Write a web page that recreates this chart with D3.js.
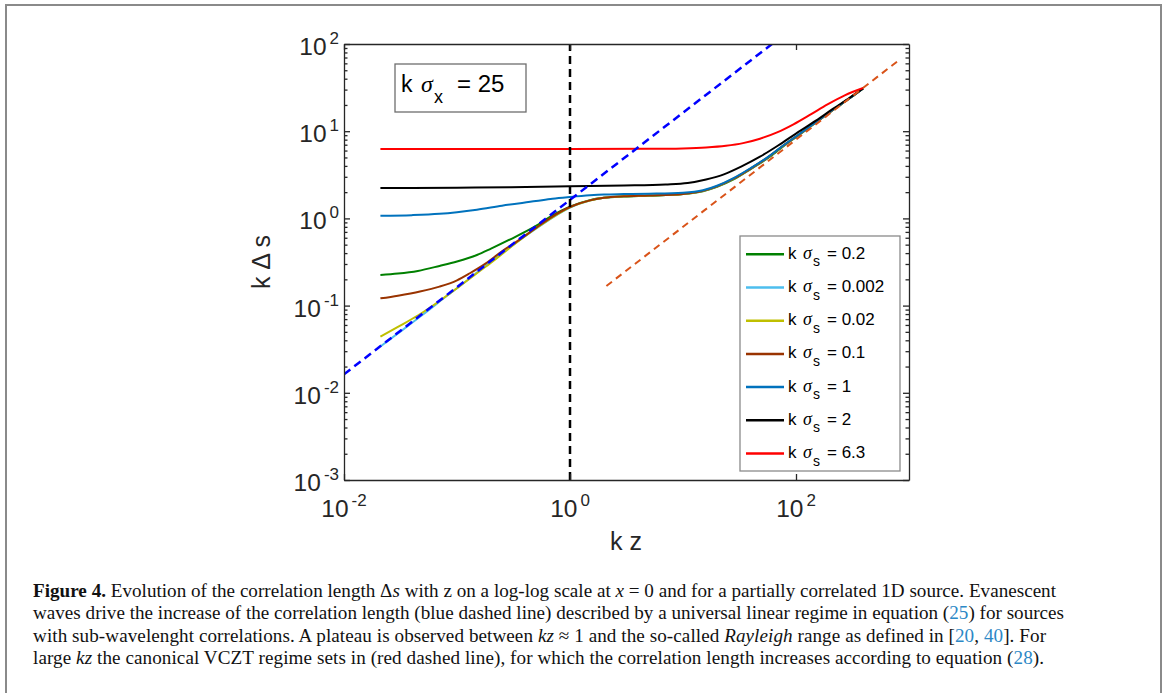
<!DOCTYPE html>
<html>
<head>
<meta charset="utf-8">
<script src="https://cdn.jsdelivr.net/npm/d3@7"></script>
<style>
  body { margin: 0; background: #fff; }
</style>
</head>
<body>
<div id="chart"></div>
<script>
// curves: [k z, k Δs]
const sigma02 = [[0.021,0.224],[0.03,0.233],[0.045,0.25],[0.07,0.285],[0.1,0.32],[0.15,0.38],[0.2,0.45],[0.3,0.58],[0.5,0.82],[0.7,1.08],[1,1.36],[1.5,1.62],[2,1.72],[3,1.78],[5,1.82],[10,1.9],[15,2.05],[20,2.3],[28,2.8],[40,3.7],[55,4.8],[77,6.7],[108,9.2],[150,12.6],[212,17.5],[300,24],[392,31]];
const sigma0002 = [[0.021,0.034],[0.03,0.048],[0.05,0.079],[0.08,0.127],[0.12,0.19],[0.18,0.29],[0.25,0.4],[0.35,0.55],[0.5,0.76],[0.7,1.02],[1,1.33],[1.5,1.6],[2,1.72],[3,1.79],[5,1.83],[10,1.91],[15,2.07],[20,2.33],[28,2.85],[40,3.75],[55,4.9],[77,6.8],[108,9.3],[150,12.65],[212,17.55],[300,24],[392,31]];
const sigma002 = [[0.021,0.044],[0.03,0.057],[0.045,0.077],[0.07,0.113],[0.1,0.158],[0.15,0.235],[0.2,0.31],[0.3,0.47],[0.5,0.77],[0.7,1.03],[1,1.34],[1.5,1.6],[2,1.72],[3,1.79],[5,1.83],[10,1.91],[15,2.07],[20,2.33],[28,2.85],[40,3.75],[55,4.9],[77,6.8],[108,9.3],[150,12.65],[212,17.55],[300,24],[392,31]];
const sigma01 = [[0.021,0.121],[0.03,0.13],[0.047,0.145],[0.07,0.165],[0.1,0.195],[0.13,0.235],[0.18,0.305],[0.25,0.42],[0.35,0.56],[0.5,0.78],[0.7,1.05],[1,1.35],[1.5,1.61],[2,1.72],[3,1.79],[5,1.83],[10,1.91],[15,2.07],[20,2.33],[28,2.85],[40,3.75],[55,4.9],[77,6.8],[108,9.3],[150,12.65],[212,17.55],[300,24],[392,31]];
const sigma1 = [[0.021,1.07],[0.04,1.09],[0.07,1.13],[0.1,1.18],[0.15,1.26],[0.25,1.4],[0.5,1.58],[0.7,1.68],[1,1.76],[1.5,1.84],[2,1.88],[3,1.9],[5,1.92],[10,1.97],[15,2.1],[20,2.37],[28,2.9],[40,3.8],[55,4.95],[77,6.85],[108,9.35],[150,12.7],[212,17.6],[300,24],[392,31]];
const sigma2 = [[0.021,2.23],[0.1,2.25],[0.3,2.28],[1,2.33],[3,2.38],[7,2.45],[11,2.55],[16,2.8],[23,3.2],[33,3.95],[48,5.1],[70,6.9],[100,9.4],[150,13.2],[212,18],[300,24.3],[392,31]];
const sigma63 = [[0.021,6.25],[1,6.25],[5,6.28],[10,6.35],[16,6.5],[24,6.8],[34,7.3],[48,8.2],[68,9.7],[95,12],[135,15.6],[190,20.3],[270,25.8],[392,31.3]];

// guide lines
const evanescentLine = [[0.01,0.0163],[61.3,100]];
const vcztLine = [[2.1,0.168],[800,64]];
const kzOneLine = [[1,0.001],[1,100]];

const seriesData = [sigma02, sigma0002, sigma002, sigma01, sigma1, sigma2, sigma63];
const seriesLabels = ["0.2", "0.002", "0.02", "0.1", "1", "2", "6.3"];
const seriesColors = ["#008000", "#4DBEEE", "#BFBF00", "#993300", "#0072BD", "#000000", "#FF0000"];

const xMajor = [1e-2, 1, 1e2];
const yMajor = [1e-3, 1e-2, 1e-1, 1, 10, 100];
const sigmaX = "25";

const captionLines = [
  [["Figure 4.", "b"], [" Evolution of the correlation length Δ", ""], ["s", "i"], [" with z on a log-log scale at ", ""], ["x", "i"], [" = 0 and for a partially correlated 1D source. Evanescent", ""]],
  [["waves drive the increase of the correlation length (blue dashed line) described by a universal linear regime in equation (", ""], ["25", "a"], [") for sources", ""]],
  [["with sub-wavelenght correlations. A plateau is observed between ", ""], ["kz", "i"], [" ≈ 1 and the so-called ", ""], ["Rayleigh", "i"], [" range as defined in [", ""], ["20", "a"], [", ", ""], ["40", "a"], ["]. For", ""]],
  [["large ", ""], ["kz", "i"], [" the canonical VCZT regime sets in (red dashed line), for which the correlation length increases according to equation (", ""], ["28", "a"], [").", ""]]
];
const captionEnds = [1056, 1064, 1046, 1044];

const W = 1168, H = 693;
const plot = { left: 344, right: 909, top: 44, bottom: 480 };
const axisColor = "#262626";
const sans = "'Liberation Sans', Arial, sans-serif";

const svg = d3.select("#chart").append("svg")
  .attr("width", W).attr("height", H)
  .attr("font-family", sans);

// page frame
svg.append("rect")
  .attr("x", 6).attr("y", 5).attr("width", 1155).attr("height", 800)
  .attr("fill", "none").attr("stroke", "#8a8a8a").attr("stroke-width", 2);

const x = d3.scaleLog().domain([1e-2, 1e3]).range([plot.left, plot.right]);
const y = d3.scaleLog().domain([1e-3, 1e2]).range([plot.bottom, plot.top]);

const yMinor = [];
for (let e = -3; e < 2; e++) for (let m = 2; m <= 9; m++) yMinor.push(m * Math.pow(10, e));

svg.append("defs").append("clipPath").attr("id", "clip")
  .append("rect").attr("x", plot.left).attr("y", plot.top)
  .attr("width", plot.right - plot.left).attr("height", plot.bottom - plot.top);

const line = d3.line().x(d => x(d[0])).y(d => y(d[1])).curve(d3.curveMonotoneX);
const straight = d3.line().x(d => x(d[0])).y(d => y(d[1]));

const curves = svg.append("g").attr("clip-path", "url(#clip)");
curves.selectAll("path.series")
  .data(seriesData)
  .join("path")
  .attr("class", "series")
  .attr("fill", "none")
  .attr("stroke", (d, i) => seriesColors[i])
  .attr("stroke-width", 2)
  .attr("d", line);

curves.append("path").attr("d", straight(vcztLine))
  .attr("fill", "none").attr("stroke", "#D95319").attr("stroke-width", 2)
  .attr("stroke-dasharray", "7,5");
curves.append("path").attr("d", straight(evanescentLine))
  .attr("fill", "none").attr("stroke", "#0000FF").attr("stroke-width", 2.5)
  .attr("stroke-dasharray", "8,5");
curves.append("path").attr("d", straight(kzOneLine))
  .attr("fill", "none").attr("stroke", "#000").attr("stroke-width", 2.5)
  .attr("stroke-dasharray", "8,5");

// axes, ticks pointing inward on all four sides
const axG = svg.append("g").attr("color", axisColor);
axG.append("g").attr("transform", `translate(0,${plot.bottom})`)
  .call(d3.axisBottom(x).tickValues(xMajor).tickSize(-6).tickSizeOuter(0).tickFormat(""));
axG.append("g").attr("transform", `translate(0,${plot.top})`)
  .call(d3.axisTop(x).tickValues(xMajor).tickSize(-6).tickSizeOuter(0).tickFormat(""));
axG.append("g").attr("transform", `translate(${plot.left},0)`)
  .call(d3.axisLeft(y).tickValues(yMajor).tickSize(-6).tickSizeOuter(0).tickFormat(""));
axG.append("g").attr("transform", `translate(${plot.right},0)`)
  .call(d3.axisRight(y).tickValues(yMajor).tickSize(-6).tickSizeOuter(0).tickFormat(""));
axG.append("g").attr("transform", `translate(${plot.left},0)`)
  .call(d3.axisLeft(y).tickValues(yMinor).tickSize(-3.5).tickSizeOuter(0).tickFormat(""))
  .select(".domain").remove();
axG.append("g").attr("transform", `translate(${plot.right},0)`)
  .call(d3.axisRight(y).tickValues(yMinor).tickSize(-3.5).tickSizeOuter(0).tickFormat(""))
  .select(".domain").remove();
axG.selectAll("path.domain, .tick line").attr("stroke-width", 1.3);

// tick labels 10^n
function powerLabel(sel) {
  sel.append("tspan").text("10");
  sel.append("tspan").attr("dx", 3).attr("dy", -11).attr("font-size", 17)
    .text(d => Math.round(Math.log10(d)));
}
svg.append("g").attr("fill", axisColor).attr("font-size", 24.5)
  .selectAll("text").data(xMajor).join("text")
  .attr("x", d => x(d)).attr("y", 517).attr("text-anchor", "middle")
  .call(powerLabel);
svg.append("g").attr("fill", axisColor).attr("font-size", 24.5)
  .selectAll("text").data(yMajor).join("text")
  .attr("x", 339).attr("y", d => y(d) + 11).attr("text-anchor", "end")
  .call(powerLabel);

// axis titles
svg.append("text").attr("x", 626).attr("y", 550).attr("text-anchor", "middle")
  .attr("font-size", 25).attr("fill", axisColor).text("k z");
svg.append("text").attr("transform", `translate(270,${(plot.top + plot.bottom) / 2}) rotate(-90)`)
  .attr("text-anchor", "middle").attr("font-size", 25).attr("fill", axisColor).text("k Δ s");

// annotation box
const note = svg.append("g");
note.append("rect").attr("x", 395).attr("y", 64).attr("width", 131).attr("height", 48)
  .attr("fill", "#fff").attr("stroke", "#6e6e6e").attr("stroke-width", 1.3);
note.append("text").attr("x", 401).attr("y", 92).attr("font-size", 23).text("k");
note.append("text").attr("x", 421).attr("y", 92).attr("font-size", 24)
  .attr("font-family", "'Liberation Serif', serif").attr("font-style", "italic").text("σ");
note.append("text").attr("x", 434).attr("y", 103).attr("font-size", 18).text("x");
note.append("text").attr("x", 457).attr("y", 92).attr("font-size", 24).text("= " + sigmaX);

// legend
const leg = svg.append("g");
leg.append("rect").attr("x", 740).attr("y", 236).attr("width", 160).attr("height", 235)
  .attr("fill", "#fff").attr("stroke", "#8a8a8a").attr("stroke-width", 1.3);
const rows = leg.selectAll("g.row").data(seriesLabels).join("g")
  .attr("class", "row")
  .attr("transform", (d, i) => `translate(746,${254.3 + i * 33.2})`);
rows.append("line").attr("x1", 0).attr("x2", 38)
  .attr("stroke", (d, i) => seriesColors[i]).attr("stroke-width", 2.5);
rows.append("text").attr("x", 42).attr("y", 4.5).attr("font-size", 17).text("k");
rows.append("text").attr("x", 57).attr("y", 4.5).attr("font-size", 18)
  .attr("font-family", "'Liberation Serif', serif").attr("font-style", "italic").text("σ");
rows.append("text").attr("x", 67).attr("y", 12).attr("font-size", 14).text("s");
rows.append("text").attr("x", 81).attr("y", 4.5).attr("font-size", 17).text(d => "= " + d);

// caption: pick a font size that makes the lines fill their measured widths
const cap = svg.append("g").attr("font-family", "'Liberation Serif', 'Times New Roman', serif")
  .attr("font-size", 20).attr("fill", "#111");
const capTexts = captionLines.map((parts, i) => {
  const t = cap.append("text").attr("x", 33).attr("y", 597 + i * 22.3);
  parts.forEach(([s, style]) => {
    const sp = t.append("tspan").text(s);
    if (style === "b") sp.attr("font-weight", "bold");
    if (style === "i") sp.attr("font-style", "italic");
    if (style === "a") sp.attr("fill", "#2C88C6");
  });
  return t;
});
const fits = capTexts.map((t, i) => 20 * (captionEnds[i] - 33) / t.node().getComputedTextLength());
const capSize = d3.min(fits);
cap.attr("font-size", capSize);
capTexts.forEach((t, i) => t.attr("textLength", captionEnds[i] - 33).attr("lengthAdjust", "spacing"));
</script>
</body>
</html>
